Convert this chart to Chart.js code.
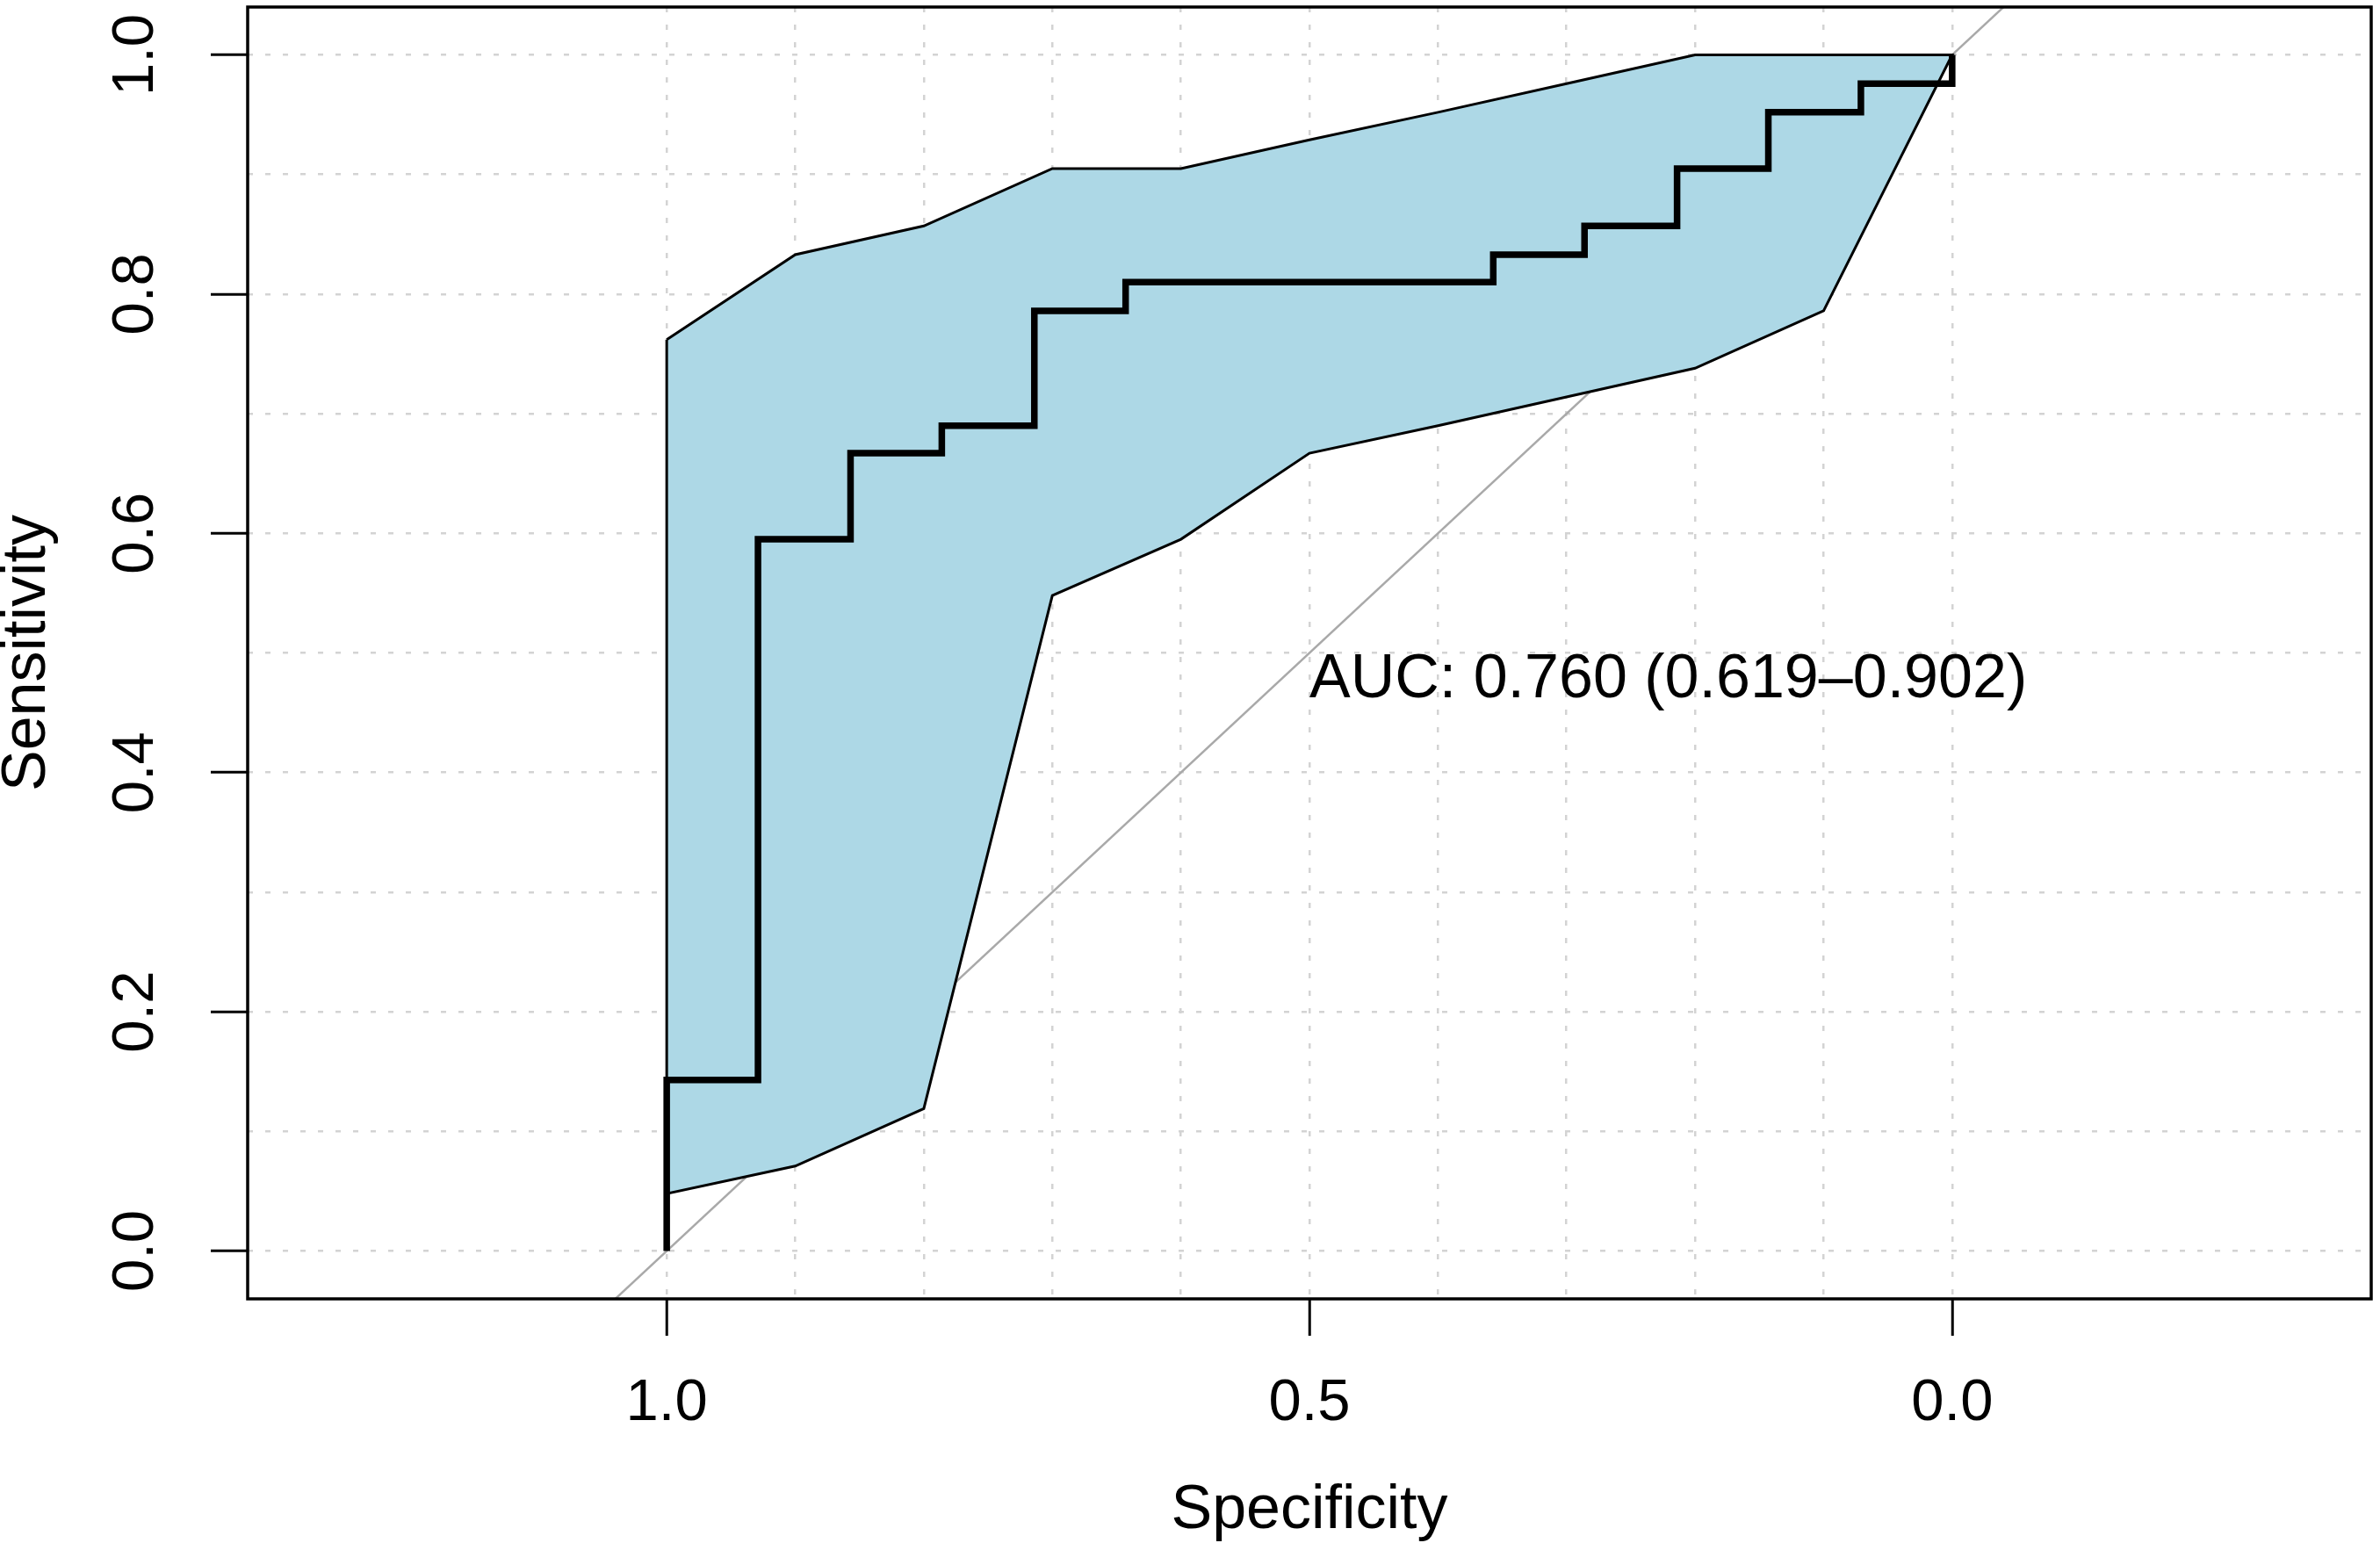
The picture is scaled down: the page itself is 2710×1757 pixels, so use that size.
<!DOCTYPE html>
<html>
<head>
<meta charset="utf-8">
<title>ROC curve</title>
<script src="https://cdn.jsdelivr.net/npm/chart.js@4.4.1/dist/chart.umd.min.js"></script>
<style>
    html, body { margin: 0; padding: 0; background: #ffffff; }
    #wrap { width: 2710px; height: 1757px; }
</style>
</head>
<body>
<div id="wrap"><canvas id="rocChart" width="2710" height="1757"></canvas></div>
<script>
// ROC curve corners (specificity on x, sensitivity on y)
const rocSpecificity = [1, 1, 0.929, 0.929, 0.857, 0.857, 0.786, 0.786, 0.714, 0.714, 0.643, 0.643,
    0.357, 0.357, 0.286, 0.286, 0.214, 0.214, 0.143, 0.143, 0.071, 0.071, 0, 0];
const rocSensitivity = [0, 0.143, 0.143, 0.595, 0.595, 0.667, 0.667, 0.690, 0.690, 0.786, 0.786, 0.810,
    0.810, 0.833, 0.833, 0.857, 0.857, 0.905, 0.905, 0.952, 0.952, 0.976, 0.976, 1];

// Confidence band of the sensitivity
const ciSpecificity = [1, 0.9, 0.8, 0.7, 0.6, 0.5, 0.4, 0.3, 0.2, 0.1, 0];
const ciUpper = [0.762, 0.833, 0.857, 0.905, 0.905, 0.929, 0.952, 0.976, 1, 1, 1];
const ciLower = [0.048, 0.071, 0.119, 0.548, 0.595, 0.667, 0.690, 0.714, 0.738, 0.786, 1];

// Chance line (sensitivity = 1 - specificity), ends run past the frame
const chanceSpecificity = [1.5, -0.5];

// Grid and tick labels
const gridValues = [0, 0.1, 0.2, 0.3, 0.4, 0.5, 0.6, 0.7, 0.8, 0.9, 1];
const xTickLabels = ['1.0', '0.5', '0.0'];
const yTickLabels = ['0.0', '0.2', '0.4', '0.6', '0.8', '1.0'];

const aucText = 'AUC: 0.760 (0.619\u20130.902)';
const aucPosition = [0.5, 0.5];

const FONT = "'Liberation Sans', Arial, Helvetica, sans-serif";
const gridColor = '#d3d3d3';

function findLabel(labels, v) {
    return labels.find(l => Math.abs(parseFloat(l) - v) < 1e-6) || '';
}

// Build datasets from the arrays
const rocPoints = rocSpecificity.map((x, i) => ({ x: x, y: rocSensitivity[i] }));

const bandPoints = ciSpecificity.map((x, i) => ({ x: x, y: ciUpper[i] }));
for (let i = ciSpecificity.length - 1; i >= 0; i--) {
    bandPoints.push({ x: ciSpecificity[i], y: ciLower[i] });
}
bandPoints.push({ x: ciSpecificity[0], y: ciUpper[0] }); // close the outline

const chancePoints = chanceSpecificity.map(x => ({ x: x, y: 1 - x }));

// Frame round the plot and the AUC label
const plotFrame = {
    id: 'plotFrame',
    afterDatasetsDraw(chart) {
        const ctx = chart.ctx;
        const xs = chart.scales.x, ys = chart.scales.y;
        const size = 70;
        ctx.save();
        ctx.font = size + 'px ' + FONT;
        ctx.fillStyle = '#000000';
        ctx.textAlign = 'left';
        ctx.textBaseline = 'alphabetic';
        ctx.fillText(aucText, xs.getPixelForValue(aucPosition[0]),
            ys.getPixelForValue(aucPosition[1]) + size * 0.716);
        ctx.restore();
    },
    afterDraw(chart) {
        const a = chart.chartArea;
        const ctx = chart.ctx;
        ctx.save();
        ctx.strokeStyle = '#000000';
        ctx.lineWidth = 3.5;
        ctx.strokeRect(a.left, a.top, a.right - a.left, a.bottom - a.top);
        ctx.restore();
    }
};

const ctx = document.getElementById('rocChart').getContext('2d');
new Chart(ctx, {
    type: 'line',
    data: {
        datasets: [{
            label: 'ROC',
            data: rocPoints,
            borderColor: '#000000',
            borderWidth: 7.5,
            pointRadius: 0,
            fill: false,
            tension: 0,
            order: 1
        }, {
            label: 'CI',
            data: bandPoints,
            borderColor: '#000000',
            borderWidth: 3,
            backgroundColor: '#add8e6',
            pointRadius: 0,
            fill: 'shape',
            tension: 0,
            order: 2
        }, {
            label: 'chance',
            data: chancePoints,
            borderColor: '#a9a9a9',
            borderWidth: 2.5,
            pointRadius: 0,
            fill: false,
            order: 3
        }]
    },
    options: {
        responsive: false,
        devicePixelRatio: 1,
        animation: false,
        layout: { padding: { left: 0, right: 10, top: 8, bottom: 0 } },
        plugins: {
            legend: { display: false },
            tooltip: { enabled: false }
        },
        scales: {
            x: {
                type: 'linear',
                reverse: true,
                min: -0.326,
                max: 1.326,
                afterBuildTicks: function(scale) {
                    scale.ticks = gridValues.map(v => ({ value: v }));
                },
                afterFit: function(scale) {
                    scale.height = 278;
                    scale.paddingLeft = 0;
                    scale.paddingRight = 0;
                },
                grid: {
                    color: gridColor,
                    lineWidth: 2.5,
                    tickLength: 42,
                    tickWidth: 3,
                    tickColor: function(c) {
                        return c.tick && findLabel(xTickLabels, c.tick.value) ? '#000000' : 'rgba(0,0,0,0)';
                    }
                },
                border: { display: false, dash: [6, 14] },
                ticks: {
                    autoSkip: false,
                    maxRotation: 0,
                    minRotation: 0,
                    padding: 37,
                    color: '#000000',
                    font: { family: FONT, size: 67 },
                    callback: function(value) { return findLabel(xTickLabels, value); }
                },
                title: {
                    display: true,
                    text: 'Specificity',
                    color: '#000000',
                    font: { family: FONT, size: 70, lineHeight: 1 },
                    padding: { top: 0, bottom: 1 }
                }
            },
            y: {
                type: 'linear',
                min: -0.04,
                max: 1.04,
                afterBuildTicks: function(scale) {
                    scale.ticks = gridValues.map(v => ({ value: v }));
                },
                afterFit: function(scale) {
                    scale.width = 282;
                    scale.paddingTop = 0;
                    scale.paddingBottom = 0;
                },
                grid: {
                    color: gridColor,
                    lineWidth: 2.5,
                    tickLength: 42,
                    tickWidth: 3,
                    tickColor: function(c) {
                        return c.tick && findLabel(yTickLabels, c.tick.value) ? '#000000' : 'rgba(0,0,0,0)';
                    }
                },
                border: { display: false, dash: [6, 14] },
                ticks: {
                    autoSkip: false,
                    minRotation: 90,
                    maxRotation: 90,
                    crossAlign: 'center',
                    padding: 38,
                    color: '#000000',
                    font: { family: FONT, size: 67 },
                    callback: function(value) { return findLabel(yTickLabels, value); }
                },
                title: {
                    display: true,
                    text: 'Sensitivity',
                    color: '#000000',
                    font: { family: FONT, size: 70, lineHeight: 0.9 },
                    padding: { top: 0, bottom: 0 }
                }
            }
        }
    },
    plugins: [plotFrame]
});
</script>
</body>
</html>
